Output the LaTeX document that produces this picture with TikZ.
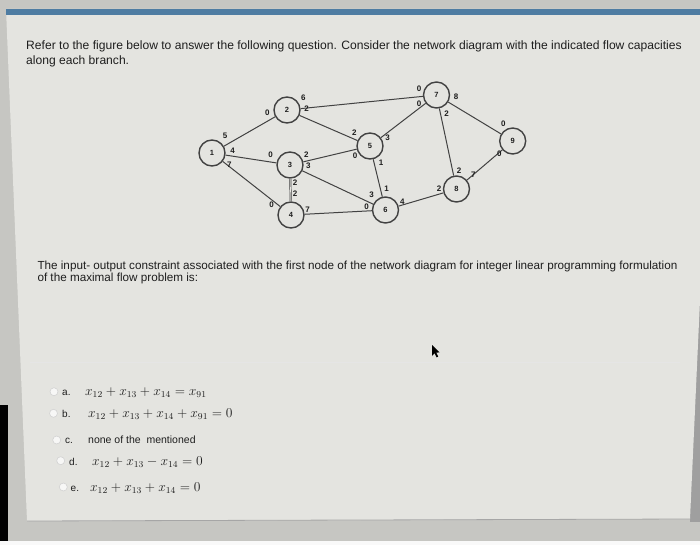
\documentclass[tikz,border=0pt]{standalone}
\usepackage{amsmath}
\usepackage{fontspec}
\setmainfont{Liberation Sans}
\setsansfont{Liberation Sans}
\usetikzlibrary{positioning, calc}
\definecolor{outc}{RGB}{198,198,194}
\definecolor{panelc}{RGB}{228,228,224}
\definecolor{barc}{RGB}{78,124,162}
\definecolor{linec}{RGB}{66,66,66}
\definecolor{textc}{RGB}{30,30,30}
\tikzstyle{Edge} = [
%plain branch between two nodes:
line width = 1pt, draw = linec
]
\newcommand{\optformula}[1]{\scalebox{1.13}{$#1$}}

\begin{document}
\begin{tikzpicture}[x = 1pt, y = -1pt,
			net/.style = {circle, draw = linec, line width = 1.4pt, fill = panelc, minimum size = 26pt, inner sep = 0pt, text = textc, font = \sffamily\bfseries\fontsize{7.5}{7.5}\selectfont},
			flowlab/.style = {inner sep = 0pt, text = textc, font = \sffamily\bfseries\fontsize{8}{8}\selectfont},
			qtext/.style = {anchor = base west, inner sep = 0pt, text = textc},
			radio/.style = {circle, draw = white!65!gray, fill = white!70!panelc, line width = 0.6pt, minimum size = 8pt, inner sep = 0pt},
			optlab/.style = {anchor = base west, inner sep = 0pt, text = textc, font = \sffamily\fontsize{10}{10}\selectfont},
			optmath/.style = {anchor = base west, inner sep = 0pt, text = textc, font = \fontsize{12}{12}\selectfont},
		]
		\useasboundingbox (0,0) rectangle (700,545);
		% screen and page
		\fill[outc] (0,0) rectangle (700,545);
		\fill[white!95!gray] (0,541) rectangle (700,545);
		\fill[black] (0,405) rectangle (8,541);
		\fill[gray!75] (690,15) rectangle (700,522);
		\fill[panelc] (6,9)--(700,9)--(700,300)--(690,519)--(27,521)--cycle;
		\draw[gray!70, line width = 0.8pt] (27,521)--(690,519);
		\fill[barc] (6,9) rectangle (700,15);
		\draw[white!80!gray, line width = 0.8pt] (30,362)--(680,362);

		% question text
		\node(Q1)[qtext, font = \fontsize{12.1}{12.1}\selectfont] at (26,49.3){Refer to the figure below to answer the following question. Consider the network diagram with the indicated flow capacities};
		\node(Q2)[qtext, font = \fontsize{12.1}{12.1}\selectfont] at (26,65){along each branch.};
		\node(Q3)[qtext, font = \fontsize{11.7}{11.7}\selectfont] at (37.3,269){The input- output constraint associated with the first node of the network diagram for integer linear programming formulation};
		\node(Q4)[qtext, font = \fontsize{11.7}{11.7}\selectfont] at (37.3,281.7){of the maximal flow problem is:};

		% network
		\node(N1)[net] at (212,153){1};
		\node(N2)[net] at (287,110){2};
		\node(N3)[net] at (290,165){3};
		\node(N4)[net] at (291,215){4};
		\node(N5)[net] at (370,146){5};
		\node(N6)[net] at (385.5,210){6};
		\node(N7)[net] at (436.5,95){7};
		\node(N8)[net] at (456.5,189){8};
		\node(N9)[net] at (512.7,141){9};

		\draw[Edge](N1)--(N2);
		\draw[Edge](N1)--(N3);
		\draw[Edge](N1)--(N4);
		\draw[Edge](N2)--(N5);
		\draw[Edge](N2)--(N7);
		\draw[Edge](N3)--(N5);
		\draw[Edge](N3)--(N6);
		\draw[Edge, line width = 0.7pt, double = panelc, double distance = 0.6pt](N3)--(N4);
		\draw[Edge](N4)--(N6);
		\draw[Edge](N5)--(N7);
		\draw[Edge](N5)--(N6);
		\draw[Edge](N6)--(N8);
		\draw[Edge](N7)--(N8);
		\draw[Edge](N7)--(N9);
		\draw[Edge](N8)--(N9);

		% capacities at the branch ends
		\node(F12)[flowlab] at (225,136){5};
		\node(F13)[flowlab] at (232.7,151){4};
		\node(F14)[flowlab] at (229.3,164.3){7};
		\node(F21)[flowlab] at (267.3,112.3){0};
		\node(F27)[flowlab] at (303.3,97.7){6};
		\node(F25)[flowlab] at (306.7,109){2};
		\node(F31)[flowlab] at (270.7,155){0};
		\node(F35)[flowlab] at (306.3,155){2};
		\node(F36)[flowlab] at (308.3,165.7){3};
		\node(F34)[flowlab] at (295,182.7){2};
		\node(F43)[flowlab] at (295,194){2};
		\node(F41)[flowlab] at (271.7,205){0};
		\node(F46)[flowlab] at (307.7,209.3){7};
		\node(F52)[flowlab] at (354.3,132.3){2};
		\node(F53)[flowlab] at (355,156){0};
		\node(F56)[flowlab] at (381,162.3){1};
		\node(F57)[flowlab] at (387.7,137.7){3};
		\node(F63)[flowlab] at (371.7,195){3};
		\node(F65)[flowlab] at (386.7,188.3){1};
		\node(F64)[flowlab] at (366.5,207){0};
		\node(F68)[flowlab] at (402.3,201.7){4};
		\node(F72)[flowlab] at (419,88.3){0};
		\node(F75)[flowlab] at (419,103.3){0};
		\node(F79)[flowlab] at (456,96.7){8};
		\node(F78)[flowlab] at (446.7,113.3){2};
		\node(F87)[flowlab] at (459,171){2};
		\node(F89)[flowlab] at (473.3,175){7};
		\node(F86)[flowlab] at (439,189){2};
		\node(F97)[flowlab] at (503.3,123.3){0};
		\node(F98)[flowlab] at (499.3,153.3){0};

		% pointer
		\fill[black] (432,345)--(432,356)--(434.6,353.2)--(436.6,357.4)--(438.2,356.6)--(436.3,352.6)--(439.6,352.4)--cycle;

		% choices
		\node(Ra)[radio] at (54,391.7){};
		\node(Rb)[radio] at (53.5,413.3){};
		\node(Rc)[radio] at (56.7,440){};
		\node(Rd)[radio] at (60.7,460.7){};
		\node(Re)[radio] at (63.3,487){};
		\node(Oa)[optlab] at (62,395){a.};
		\node(Ob)[optlab] at (62,417){b.};
		\node(Oc)[optlab] at (65,443){c.};
		\node(Od)[optlab] at (69,465){d.};
		\node(Oe)[optlab] at (70.5,491){e.};
		\node(Ma)[optmath] at (85,395){\optformula{x_{12}+x_{13}+x_{14}=x_{91}}};
		\node(Mb)[optmath] at (88,417){\optformula{x_{12}+x_{13}+x_{14}+x_{91}=0}};
		\node(Mc)[optlab, font = \sffamily\fontsize{10.5}{10.5}\selectfont] at (88,443){none of the\ \ mentioned};
		\node(Md)[optmath] at (92,465){\optformula{x_{12}+x_{13}-x_{14}=0}};
		\node(Me)[optmath] at (90,491){\optformula{x_{12}+x_{13}+x_{14}=0}};

	\end{tikzpicture}
\end{document}
